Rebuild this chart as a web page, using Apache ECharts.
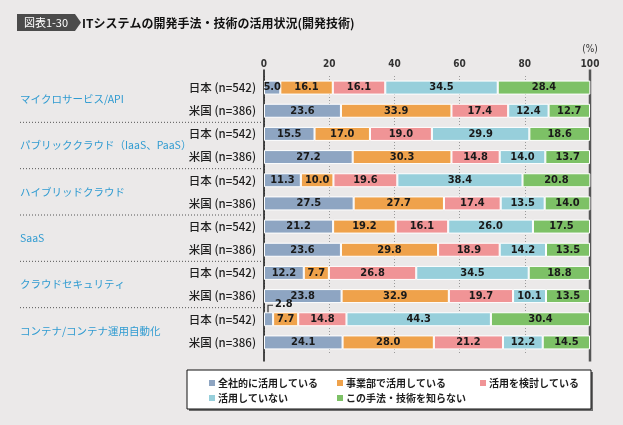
<!DOCTYPE html>
<html><head><meta charset="utf-8">
<script src="https://cdn.jsdelivr.net/npm/echarts@6/dist/echarts.min.js"></script>
<style>html,body{margin:0;padding:0;background:#ebe9e9;}#c{width:623px;height:425px;}</style>
</head><body><div id="c"></div>
<script>
const groups = ['マイクロサービス/API','パブリッククラウド（IaaS、PaaS）','ハイブリッドクラウド','SaaS','クラウドセキュリティ','コンテナ/コンテナ運用自動化'];
const rowLabels = ['日本 (n=542)','米国 (n=386)'];
const seriesNames = ['全社的に活用している','事業部で活用している','活用を検討している','活用していない','この手法・技術を知らない'];
const xTicks = [0,20,40,60,80,100];
// rows top to bottom: group1 JP, group1 US, group2 JP, ...
const zensha    = [5.0,23.6,15.5,27.2,11.3,27.5,21.2,23.6,12.2,23.8,2.8,24.1];
const jigyobu   = [16.1,33.9,17.0,30.3,10.0,27.7,19.2,29.8,7.7,32.9,7.7,28.0];
const kento     = [16.1,17.4,19.0,14.8,19.6,17.4,16.1,18.9,26.8,19.7,14.8,21.2];
const mikatsuyo = [34.5,12.4,29.9,14.0,38.4,13.5,26.0,14.2,34.5,10.1,44.3,12.2];
const shiranai  = [28.4,12.7,18.6,13.7,20.8,14.0,17.5,13.5,18.8,13.5,30.4,14.5];
const colors = ['#8ea5c2','#efa24b','#f09496','#97cfdb','#7dc166'];

const rows = [];
groups.forEach((g,i)=>{ rows.push(g+'|JP'); rows.push(g+'|US'); });
const values = [zensha,jigyobu,kento,mikatsuyo,shiranai];
const numFont = "'Liberation Sans Narrow','DejaVu Sans Condensed','Noto Sans',sans-serif";
const jpFont = "'Noto Sans CJK JP','Noto Sans',sans-serif";

const chart = echarts.init(document.getElementById('c'), null, {renderer:'canvas'});
const series = values.map((arr, si) => ({
  name: seriesNames[si],
  type: 'bar',
  stack: 'total',
  barWidth: 14,
  itemStyle: {color: colors[si], borderColor: '#ffffff', borderWidth: 1},
  label: {show: true, position: 'inside', color: '#1a1a1a', fontFamily: numFont, fontWeight: 'bold', fontSize: 11,
    formatter: p => p.value.toFixed(1)},
  data: arr.map((v, i) => {
    if (si === 0 && v < 4) {
      return {value: v, label: {position: [11, -14]}};
    }
    return v;
  })
}));

chart.setOption({
  animation: false,
  backgroundColor: '#ebe9e9',
  textStyle: {fontFamily: jpFont},
  grid: {left: 264, right: 33, top: 76, height: 278},
  xAxis: {
    type: 'value', position: 'top', min: 0, max: 100, interval: 20,
    axisLine: {show: false}, axisTick: {show: false},
    axisLabel: {color: '#333', fontSize: 10, margin: 7, fontFamily: numFont, fontWeight: 'bold'},
    splitLine: {show: true, lineStyle: {type: [1, 2], color: '#999', width: 1}}
  },
  yAxis: [{
    type: 'category', data: rows, inverse: true,
    axisLine: {show: false}, axisTick: {show: false},
    axisLabel: {color: '#1e1e1e', fontSize: 11.5, margin: 8, fontFamily: jpFont, fontWeight: 500,
      formatter: (v, i) => rowLabels[i % 2]}
  }, {
    type: 'category', data: groups, inverse: true, position: 'left',
    axisLine: {show: false}, axisTick: {show: false},
    axisLabel: {color: '#2f9bd1', fontSize: 10.5, margin: 244, align: 'left', fontFamily: jpFont}
  }],
  legend: seriesNames.map((n, i) => ({
    data: [n], selectedMode: false, icon: 'rect', itemWidth: 8, itemHeight: 8, itemGap: 0,
    left: [202, 330, 473, 202, 330][i], top: [373, 373, 373, 388, 388][i],
    textStyle: {fontSize: 10, color: '#1e1e1e', fontFamily: jpFont, fontWeight: 'bold', padding: [0, 0, 0, -3]}
  })),
  series: series
});

// decorations computed from the axes
const px = (x, r) => chart.convertToPixel({xAxisIndex: 0, yAxisIndex: 0}, [x, r]);
const gfx = [];
// title badge
gfx.push({type: 'polygon', shape: {points: [[17, 14], [75, 14], [81, 22.5], [75, 31], [17, 31]]}, style: {fill: '#4b4b4b'}});
gfx.push({type: 'text', x: 46, y: 22.5, style: {text: '図表1-30', fill: '#fff', fontSize: 11, fontFamily: jpFont, align: 'center', verticalAlign: 'middle'}});
gfx.push({type: 'text', x: 82, y: 23, style: {text: 'ITシステムの開発手法・技術の活用状況(開発技術)', fill: '#111', fontSize: 12, fontWeight: 'bold', fontFamily: jpFont, verticalAlign: 'middle'}});
gfx.push({type: 'text', x: 590, y: 49, style: {text: '(%)', fill: '#333', fontSize: 10, fontFamily: numFont, align: 'center', verticalAlign: 'middle'}});
// separators
for (let k = 1; k < groups.length; k++) {
  const y = (px(0, rows[2 * k - 1])[1] + px(0, rows[2 * k])[1]) / 2;
  gfx.push({type: 'line', shape: {x1: 20, y1: y, x2: 261, y2: y}, style: {stroke: '#555', lineWidth: 1, lineDash: [1, 2]}});
}
const yTop = px(0, rows[0])[1] - 18, yBot = px(0, rows[rows.length - 1])[1] + 19;
const x0 = px(0, rows[0])[0], x100 = px(100, rows[0])[0];
gfx.push({type: 'line', shape: {x1: x0, y1: yTop, x2: x0, y2: yBot}, style: {stroke: '#111', lineWidth: 1.5}});
gfx.push({type: 'line', shape: {x1: x100, y1: yTop, x2: x100, y2: yBot}, style: {stroke: '#555', lineWidth: 2.5}});
// leader for small label
zensha.forEach((v, i) => {
  if (v < 4) {
    const p = px(0, rows[i]);
    gfx.push({type: 'polyline', shape: {points: [[p[0] + 4, p[1] - 7], [p[0] + 4, p[1] - 14], [p[0] + 9, p[1] - 14]]}, style: {stroke: '#333', lineWidth: 1.2, fill: null}, z: 10});
  }
});
// legend box
gfx.push({type: 'rect', shape: {x: 189, y: 372, width: 404, height: 39}, style: {fill: '#6e6e6e'}, z: -1});
gfx.push({type: 'rect', shape: {x: 187, y: 370, width: 404, height: 39}, style: {fill: '#fff', stroke: '#111', lineWidth: 1}, z: -1});
chart.setOption({graphic: gfx});
</script></body></html>
